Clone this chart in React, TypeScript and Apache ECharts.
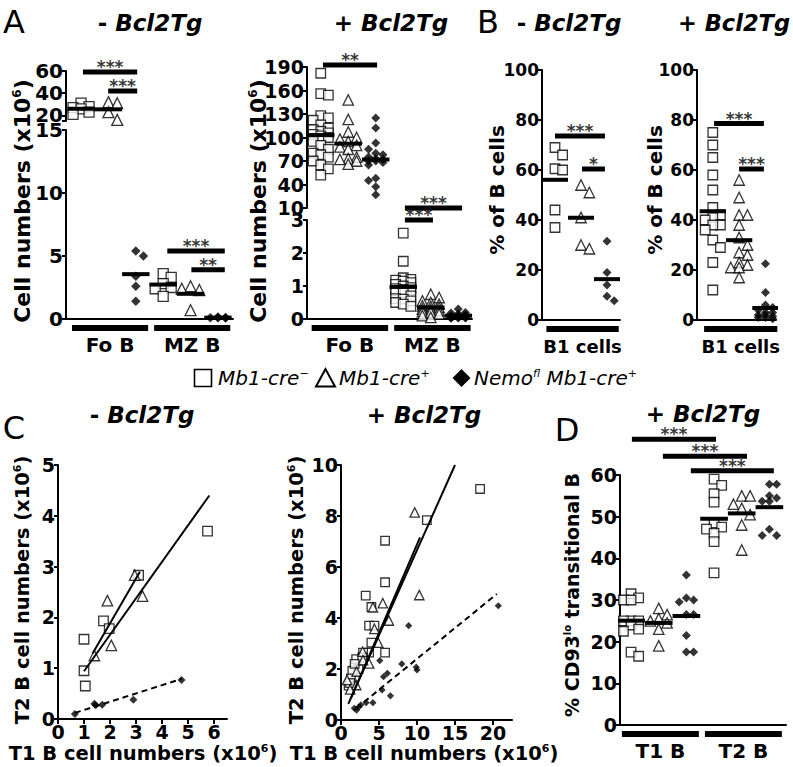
import { useEffect, useRef } from "react";
import * as echarts from "echarts";

const FONT = "DejaVu Sans";
const INK = "#000";

// ================= DATA =================
// Group order inside every category: Mb1-cre−, Mb1-cre+, Nemo fl Mb1-cre+

// Panel A, − Bcl2Tg : cell numbers (x10^6)
const aNegFoCreNeg = [31, 28, 27, 26, 23, 21];
const aNegFoCrePos = [32, 31, 23, 16];
const aNegFoNemo = [5.4, 5.0, 3.4, 2.6, 1.4];
const aNegMzCreNeg = [3.6, 3.3, 2.8, 2.5, 2.4, 1.8];
const aNegMzCrePos = [2.6, 2.4, 2.3, 0.7];
const aNegMzNemo = [0.15, 0.12, 0.1, 0.1, 0.08];

// Panel A, + Bcl2Tg
const aPosFoCreNeg = [182, 156, 154, 128, 125, 122, 116, 112, 110, 108, 106, 104, 102, 100, 95, 90, 85, 80, 78, 75, 70, 65, 60, 52];
const aPosFoCrePos = [148, 123, 107, 100, 98, 95, 90, 88, 85, 75, 73, 72, 70, 66];
const aPosFoNemo = [125, 112, 93, 85, 80, 78, 75, 73, 72, 70, 70, 68, 65, 48, 45, 37, 27];
const aPosMzCreNeg = [2.6, 1.75, 1.25, 1.2, 1.18, 1.15, 1.1, 1.05, 1.0, 0.95, 0.92, 0.9, 0.88, 0.85, 0.8, 0.7, 0.62, 0.6, 0.55, 0.5, 0.45, 0.38];
const aPosMzCrePos = [0.75, 0.65, 0.55, 0.5, 0.45, 0.4, 0.38, 0.35, 0.3, 0.28, 0.25, 0.22, 0.2, 0.15, 0.1, 0.05];
const aPosMzNemo = [0.3, 0.2, 0.18, 0.15, 0.12, 0.1, 0.1, 0.08, 0.06, 0.05, 0.05, 0.04, 0.03, 0.03, 0.02];

const aCategories = ["Fo B", "MZ B"];
const aNegUpperTicks = [20, 40, 60];
const aNegLowerTicks = [0, 5, 10, 15];
const aPosUpperTicks = [10, 40, 70, 100, 130, 160, 190];
const aPosLowerTicks = [0, 1, 2, 3];
// significance bars: [from group, to group, height, label]
const aNegSig: [number, number, number, string][] = [[0.07, 2.05, 59, "***"], [0.99, 2.05, 42, "***"], [3.15, 5.25, 5.4, "***"], [4.03, 5.25, 3.9, "**"]];
const aPosSig: [number, number, number, string][] = [[0.08, 2.05, 192.5, "**"], [3.06, 5.14, 10, "***"], [3.06, 4.08, 3, "***"]];

// Panel B: % of B cells (B1 cells)
const bNegCreNeg = [69, 66, 60.5, 60, 44, 37];
const bNegCrePos = [54, 51, 41, 30, 28.5];
const bNegNemo = [31.5, 19, 14, 9.5, 7.7];
const bPosCreNeg = [75, 70, 65, 58, 52, 45, 42, 41, 40, 38, 38, 36, 32, 29, 23, 12];
const bPosCrePos = [56, 49, 42, 42, 38, 33, 30, 27, 26, 23, 22, 21, 21, 17];
const bPosNemo = [22.5, 11, 6, 5, 4, 3, 3, 2, 2, 1.5, 1, 1, 0.5];
const bCategories = ["B1 cells"];
const bTicks = [0, 20, 40, 60, 80, 100];
const bNegSig: [number, number, number, string][] = [[0, 1.92, 73.6, "***"], [1.04, 1.92, 60.4, "*"]];
const bPosSig: [number, number, number, string][] = [[0.05, 1.94, 78.6, "***"], [1.0, 1.94, 60.4, "***"]];

// Panel C: [T1 B cell numbers, T2 B cell numbers] (x10^6)
const cNegCreNeg = [[1.0, 1.57], [1.0, 0.95], [1.05, 0.65], [1.75, 1.93], [1.97, 1.78], [3.1, 2.83], [5.75, 3.7]];
const cNegCrePos = [[1.4, 1.25], [1.9, 2.33], [2.05, 1.45], [2.95, 2.83], [3.25, 2.42]];
const cNegNemo = [[0.65, 0.1], [1.4, 0.3], [1.45, 0.27], [1.7, 0.28], [2.9, 0.38], [4.75, 0.77]];
const cNegFitCreNeg = [[1.0, 0.94], [5.82, 4.4]];
const cNegFitCrePos = [[1.33, 1.29], [3.15, 2.9]];
const cNegFitNemo = [[0.65, 0.12], [4.76, 0.79]];
const cNegXTicks = [0, 1, 2, 3, 4, 5, 6];
const cNegYTicks = [0, 1, 2, 3, 4, 5];

const cPosCreNeg = [[18.3, 9.06], [11.3, 7.84], [5.8, 7.03], [5.8, 5.4], [3.25, 4.88], [4.0, 4.43], [3.7, 3.7], [4.4, 3.7], [4.0, 3.03], [5.8, 2.64], [3.7, 2.64], [2.9, 2.64], [2.0, 2.39], [2.8, 2.45], [2.3, 2.0], [1.5, 1.93], [1.8, 2.2], [1.3, 1.63], [1.0, 1.35], [1.2, 1.45]];
const cPosCrePos = [[9.7, 8.14], [10.3, 4.9], [5.5, 4.58], [4.2, 4.42], [6.3, 3.9], [4.4, 3.57], [4.9, 3.03], [2.85, 2.68], [3.7, 2.22], [2.9, 2.35], [2.05, 1.9], [0.8, 1.57], [2.0, 1.37], [1.2, 1.2]];
const cPosNemo = [[20.7, 4.48], [8.9, 3.7], [5.1, 2.33], [8.0, 2.2], [9.9, 2.07], [10.0, 1.96], [6.1, 1.83], [5.6, 1.7], [5.4, 1.18], [6.5, 0.95], [3.3, 0.68], [4.2, 0.68], [2.6, 0.59], [2.3, 0.5], [1.75, 0.46], [2.05, 0.39]];
const cPosFitCreNeg = [[0.96, 0.63], [15.0, 10.0]];
const cPosFitCrePos = [[1.3, 0.85], [10.4, 7.16]];
const cPosFitNemo = [[2.0, 0.46], [20.5, 4.94]];
const cPosXTicks = [0, 5, 10, 15, 20];
const cPosYTicks = [0, 2, 4, 6, 8, 10];

// Panel D: % CD93lo transitional B
const dT1CreNeg = [31.5, 30.5, 30, 30, 25, 25, 25, 24, 23, 22.5, 17.5, 16.5];
const dT1CrePos = [28, 26.5, 25.5, 25, 24.5, 23, 19];
const dT1Nemo = [36, 30.5, 30, 29.5, 26.5, 26.5, 21.5, 17.5, 17.5];
const dT2CreNeg = [59, 57.5, 55.5, 53.5, 48.5, 47.5, 47, 46, 44, 36.5];
const dT2CrePos = [55, 55, 53, 52, 50.5, 48, 42];
const dT2Nemo = [57.8, 57.8, 55, 54.5, 53.7, 53.7, 47, 45.5, 45.5];
const dCategories = ["T1 B", "T2 B"];
const dTicks = [0, 10, 20, 30, 40, 50, 60];
const dSig: [number, number, number, string][] = [[0.03, 3.07, 68.6, "***"], [1.15, 4.19, 64.5, "***"], [2.16, 5.16, 61, "***"]];

// ================= LAYOUT =================
type G = { left: number; top: number; width: number; height: number; xMin: number; xMax: number; yMin: number; yMax: number };
const GRIDS: G[] = [
  { left: 66, top: 71, width: 167, height: 50, xMin: -0.55, xMax: 5.55, yMin: 15, yMax: 60 }, // 0 A− upper
  { left: 66, top: 130, width: 167, height: 189, xMin: -0.55, xMax: 5.55, yMin: 0, yMax: 15 }, // 1 A− lower
  { left: 307, top: 67, width: 165, height: 141, xMin: -0.5, xMax: 5.5, yMin: 10, yMax: 190 }, // 2 A+ upper
  { left: 307, top: 220, width: 165, height: 99, xMin: -0.5, xMax: 5.5, yMin: 0, yMax: 3 }, // 3 A+ lower
  { left: 542, top: 70, width: 78, height: 250, xMin: -0.5, xMax: 2.5, yMin: 0, yMax: 100 }, // 4 B−
  { left: 697, top: 70, width: 79, height: 250, xMin: -0.6, xMax: 2.4, yMin: 0, yMax: 100 }, // 5 B+
  { left: 58, top: 465, width: 169, height: 254, xMin: 0, xMax: 6.5, yMin: 0, yMax: 5 }, // 6 C−
  { left: 341, top: 465, width: 171, height: 255, xMin: 0, xMax: 22.5, yMin: 0, yMax: 10 }, // 7 C+
  { left: 620, top: 475, width: 166, height: 250, xMin: -0.4, xMax: 5.6, yMin: 0, yMax: 60 }, // 8 D
];
const AXES: { yTicks: number[]; yLabels: number[]; x: "none" | "line" | "ticks"; xTicks?: number[]; font: number }[] = [
  { yTicks: [15, ...aNegUpperTicks], yLabels: aNegUpperTicks, x: "none", font: 20 },
  { yTicks: aNegLowerTicks, yLabels: aNegLowerTicks, x: "line", font: 20 },
  { yTicks: aPosUpperTicks, yLabels: aPosUpperTicks, x: "none", font: 19 },
  { yTicks: aPosLowerTicks, yLabels: aPosLowerTicks, x: "line", font: 19 },
  { yTicks: bTicks, yLabels: bTicks, x: "line", font: 17 },
  { yTicks: bTicks, yLabels: bTicks, x: "line", font: 17 },
  { yTicks: cNegYTicks, yLabels: cNegYTicks, x: "ticks", xTicks: cNegXTicks, font: 19 },
  { yTicks: cPosYTicks, yLabels: cPosYTicks, x: "ticks", xTicks: cPosXTicks, font: 19 },
  { yTicks: dTicks, yLabels: dTicks, x: "line", font: 19 },
];

type Kind = "sq" | "tri" | "dia";
const KIND_ORDER: Kind[] = ["sq", "tri", "dia"];
const KIND_STYLE: Record<Kind, any> = {
  sq: { symbol: "rect", scale: 1, itemStyle: { color: "#fff", borderColor: INK, borderWidth: 1.3 } },
  tri: { symbol: "triangle", scale: 1.1, itemStyle: { color: "#fff", borderColor: INK, borderWidth: 1.3 } },
  dia: { symbol: "diamond", scale: 0.95, itemStyle: { color: INK, borderWidth: 0 } },
};

const mean = (a: number[]) => a.reduce((s, v) => s + v, 0) / a.length;
const yPx = (g: number, v: number) => {
  const d = GRIDS[g];
  return d.top + (d.height * (d.yMax - v)) / (d.yMax - d.yMin);
};

// beeswarm-like horizontal spreading of overlapping points (layout only)
function swarm(vals: number[], center: number, pxPerX: number, py: (v: number) => number, size: number, half: number) {
  const step = (size * 0.8) / pxPerX;
  const maxK = Math.max(0, Math.floor(half / step));
  const placed: { x: number; y: number }[] = [];
  const out: number[][] = [];
  const order = vals.map((_, i) => i).sort((a, b) => vals[b] - vals[a]);
  for (const idx of order) {
    const v = vals[idx];
    const p = py(v);
    let best = center;
    let bestCost = Infinity;
    for (let i = 0; i <= 2 * maxK; i++) {
      const k = i === 0 ? 0 : i % 2 === 1 ? (i + 1) / 2 : -i / 2;
      const x = center + k * step;
      let cost = Math.abs(k) * 0.01;
      for (const q of placed) {
        const dx = Math.abs(q.x - x) * pxPerX;
        const dy = Math.abs(q.y - p);
        if (dx < size * 0.8 && dy < size * 0.85) cost += (size * 0.8 - dx) * (size * 0.85 - dy);
      }
      if (cost < bestCost) {
        bestCost = cost;
        best = x;
      }
    }
    placed.push({ x: best, y: p });
    out.push([best, v]);
  }
  return out;
}

function hLine(g: number, x0: number, x1: number, y: number, width: number) {
  return {
    type: "line", xAxisIndex: g, yAxisIndex: g, data: [[x0, y], [x1, y]], symbol: "none",
    lineStyle: { color: INK, width, cap: "butt" }, clip: false, silent: true, z: 5,
  };
}

function dotPanel(series: any[], upper: number | null, lower: number, groups: number[][], size: number, sig: [number, number, number, string][]) {
  const gl = GRIDS[lower];
  const pxX = gl.width / (gl.xMax - gl.xMin);
  const route = (v: number) => (upper !== null && v >= GRIDS[upper].yMin ? upper : lower);
  groups.forEach((vals, gi) => {
    const kind = KIND_ORDER[gi % 3];
    const ks = KIND_STYLE[kind];
    const sz = size * ks.scale;
    const pts = swarm(vals, gi, pxX, (v) => yPx(route(v), v), sz, 0.42);
    const byGrid = new Map<number, number[][]>();
    pts.forEach((p) => {
      const g = route(p[1]);
      if (!byGrid.has(g)) byGrid.set(g, []);
      byGrid.get(g)!.push(p);
    });
    byGrid.forEach((data, g) => {
      series.push({
        type: "scatter", xAxisIndex: g, yAxisIndex: g, data, symbol: ks.symbol, symbolSize: sz,
        itemStyle: ks.itemStyle, silent: true, z: 3, clip: false,
      });
    });
    const m = mean(vals);
    series.push(hLine(route(m), gi - 0.5, gi + 0.5, m, 4));
  });
  sig.forEach(([a, b, y, s]) => {
    const g = route(y);
    series.push(hLine(g, a, b, y, 5));
    series.push({
      type: "scatter", xAxisIndex: g, yAxisIndex: g, data: [[(a + b) / 2, y]], symbolSize: 1,
      itemStyle: { color: "rgba(0,0,0,0)" }, clip: false, silent: true, z: 6,
      label: {
        show: true, position: "inside", offset: [0, -5], formatter: s, color: INK,
        fontFamily: FONT, fontWeight: "bold", fontSize: 17, lineHeight: 9,
      },
    });
  });
}

function xyPanel(series: any[], g: number, sets: number[][][], fits: number[][][], size: number) {
  sets.forEach((data, i) => {
    const ks = KIND_STYLE[KIND_ORDER[i]];
    series.push({
      type: "scatter", xAxisIndex: g, yAxisIndex: g, data, symbol: ks.symbol,
      symbolSize: size * (KIND_ORDER[i] === "dia" ? 0.8 : ks.scale * 0.95), itemStyle: ks.itemStyle, silent: true, z: 3,
    });
  });
  fits.forEach((data, i) => {
    series.push({
      type: "line", xAxisIndex: g, yAxisIndex: g, data, symbol: "none", silent: true, z: 4,
      lineStyle: { color: INK, width: 2, type: i === 2 ? [6, 4] : "solid" },
    });
  });
}

const T = (x: number, y: number, text: string, rich: any, extra: any = {}) => ({
  type: "text", x, y, silent: true, ...extra,
  style: { text, rich, align: "center", verticalAlign: "middle", textAlign: "center", textVerticalAlign: "middle", fill: INK },
});

const richBold = (fs: number) => ({
  b: { fontFamily: FONT, fontWeight: "bold", fontSize: fs, fill: INK },
  i: { fontFamily: FONT, fontWeight: "bold", fontStyle: "italic", fontSize: fs, fill: INK },
  s: { fontFamily: FONT, fontWeight: "bold", fontSize: Math.round(fs * 0.55), fill: INK, verticalAlign: "top" },
});
const richLetter = { l: { fontFamily: FONT, fontSize: 32, fill: INK } };
const richLegend = {
  i: { fontFamily: FONT, fontStyle: "italic", fontSize: 20, fill: INK },
  s: { fontFamily: FONT, fontStyle: "italic", fontSize: 11, fill: INK, verticalAlign: "top" },
};

function staticGraphics() {
  const g: any[] = [];
  const rot = { rotation: Math.PI / 2 };
  // panel letters
  g.push(T(14, 22, "{l|A}", richLetter));
  g.push(T(488, 22, "{l|B}", richLetter));
  g.push(T(14, 428, "{l|C}", richLetter));
  g.push(T(567, 430, "{l|D}", richLetter));
  // titles
  const neg = "{b|- }{i|Bcl2Tg}";
  const pos = "{b|+ }{i|Bcl2Tg}";
  g.push(T(150, 23, neg, richBold(23)));
  g.push(T(391, 23, pos, richBold(23)));
  g.push(T(569, 23, neg, richBold(23)));
  g.push(T(734, 23, pos, richBold(22.5)));
  g.push(T(142, 415, neg, richBold(23)));
  g.push(T(424, 415, pos, richBold(23)));
  g.push(T(703, 414, pos, richBold(23)));
  // axis names
  const cellNum = "{b|Cell numbers (x10}{s|6}{b|)}";
  g.push(T(22, 201, cellNum, richBold(22), rot));
  g.push(T(258, 201, cellNum, richBold(22), rot));
  g.push(T(497, 190, "{b|% of B cells}", richBold(20), rot));
  g.push(T(655, 190, "{b|% of B cells}", richBold(20), rot));
  g.push(T(22, 590, "{b|T2 B cell numbers (x10}{s|6}{b|)}", richBold(19.5), rot));
  g.push(T(296, 590, "{b|T2 B cell numbers (x10}{s|6}{b|)}", richBold(19.5), rot));
  g.push(T(143, 753, "{b|T1 B cell numbers (x10}{s|6}{b|)}", richBold(19.5)));
  g.push(T(424, 753, "{b|T1 B cell numbers (x10}{s|6}{b|)}", richBold(19.5)));
  g.push(T(572, 595, "{b|% CD93}{s|lo}{b| transitional B}", richBold(19), rot));
  // legend
  const ly = 378;
  g.push({ type: "rect", silent: true, shape: { x: 194.5, y: ly - 8.5, width: 17, height: 17 }, style: { fill: "none", stroke: INK, lineWidth: 1.6 } });
  g.push({ type: "text", x: 218, y: ly, silent: true, style: { text: "{i|Mb1-cre}{s|−}", rich: richLegend, align: "left", verticalAlign: "middle", textAlign: "left", textVerticalAlign: "middle" } });
  g.push({ type: "polygon", silent: true, shape: { points: [[325.5, ly - 9], [316, ly + 8.5], [335, ly + 8.5]] }, style: { fill: "none", stroke: INK, lineWidth: 2 } });
  g.push({ type: "text", x: 339, y: ly, silent: true, style: { text: "{i|Mb1-cre}{s|+}", rich: richLegend, align: "left", verticalAlign: "middle", textAlign: "left", textVerticalAlign: "middle" } });
  g.push({ type: "polygon", silent: true, shape: { points: [[461.5, ly - 9], [470.5, ly], [461.5, ly + 9], [452.5, ly]] }, style: { fill: INK } });
  g.push({ type: "text", x: 474, y: ly, silent: true, style: { text: "{i|Nemo}{s|fl}{i| Mb1-cre}{s|+}", rich: richLegend, align: "left", verticalAlign: "middle", textAlign: "left", textVerticalAlign: "middle" } });
  return g;
}

// category bars beneath the x axes: [grid, first group, last group, label]
const CATEGORY_BARS: [number, number, number, string][] = [
  [1, 0, 2, aCategories[0]], [1, 3, 5, aCategories[1]],
  [3, 0, 2, aCategories[0]], [3, 3, 5, aCategories[1]],
  [4, 0, 2, bCategories[0]], [5, 0, 2, bCategories[0]],
  [8, 0, 2, dCategories[0]], [8, 3, 5, dCategories[1]],
];

function buildOption() {
  const series: any[] = [];
  dotPanel(series, 0, 1, [aNegFoCreNeg, aNegFoCrePos, aNegFoNemo, aNegMzCreNeg, aNegMzCrePos, aNegMzNemo], 10, aNegSig);
  dotPanel(series, 2, 3, [aPosFoCreNeg, aPosFoCrePos, aPosFoNemo, aPosMzCreNeg, aPosMzCrePos, aPosMzNemo], 9.5, aPosSig);
  dotPanel(series, null, 4, [bNegCreNeg, bNegCrePos, bNegNemo], 9.5, bNegSig);
  dotPanel(series, null, 5, [bPosCreNeg, bPosCrePos, bPosNemo], 9.5, bPosSig);
  xyPanel(series, 6, [cNegCreNeg, cNegCrePos, cNegNemo], [cNegFitCreNeg, cNegFitCrePos, cNegFitNemo], 10);
  xyPanel(series, 7, [cPosCreNeg, cPosCrePos, cPosNemo], [cPosFitCreNeg, cPosFitCrePos, cPosFitNemo], 9);
  dotPanel(series, null, 8, [dT1CreNeg, dT1CrePos, dT1Nemo, dT2CreNeg, dT2CrePos, dT2Nemo], 9.5, dSig);

  const labelFont = (fs: number) => ({ color: INK, fontFamily: FONT, fontWeight: "bold", fontSize: fs, lineHeight: Math.round(fs * 0.72) });
  return {
    animation: false,
    backgroundColor: "#fff",
    grid: GRIDS.map((d) => ({ left: d.left, top: d.top, width: d.width, height: d.height, containLabel: false, outerBoundsMode: "none" })),
    xAxis: GRIDS.map((d, i) => {
      const a = AXES[i];
      return {
        gridIndex: i, type: "value", min: d.xMin, max: d.xMax, show: a.x !== "none",
        axisLine: { show: a.x !== "none", onZero: false, lineStyle: { color: INK, width: 2 } },
        axisTick: a.x === "ticks" ? { show: true, customValues: a.xTicks, length: 5, lineStyle: { color: INK, width: 2 } } : { show: false },
        axisLabel: a.x === "ticks" ? { show: true, customValues: a.xTicks, margin: 6, ...labelFont(a.font) } : { show: false },
        splitLine: { show: false },
      };
    }),
    yAxis: GRIDS.map((d, i) => {
      const a = AXES[i];
      return {
        gridIndex: i, type: "value", min: d.yMin, max: d.yMax,
        axisLine: { show: true, onZero: false, lineStyle: { color: INK, width: 2 } },
        axisTick: { show: true, customValues: a.yTicks, length: 4, lineStyle: { color: INK, width: 2 } },
        axisLabel: { show: true, customValues: a.yLabels, margin: 3, ...labelFont(a.font) },
        splitLine: { show: false },
      };
    }),
    series,
  };
}

export default function App() {
  const ref = useRef<HTMLDivElement>(null);
  useEffect(() => {
    if (!ref.current) return;
    const chart = echarts.init(ref.current, null, { renderer: "svg" });
    chart.setOption(buildOption() as any);
    const g = staticGraphics();
    CATEGORY_BARS.forEach(([grid, a, b, label]) => {
      const x0 = chart.convertToPixel({ xAxisIndex: grid } as any, a - 0.33) as unknown as number;
      const x1 = chart.convertToPixel({ xAxisIndex: grid } as any, b + 0.45) as unknown as number;
      const y0 = chart.convertToPixel({ yAxisIndex: grid } as any, GRIDS[grid].yMin) as unknown as number;
      g.push({ type: "rect", silent: true, shape: { x: x0, y: y0 + 6, width: x1 - x0, height: 6 }, style: { fill: INK } });
      g.push(T((x0 + x1) / 2, y0 + 26, `{b|${label}}`, richBold(grid === 4 || grid === 5 ? 18 : 20)));
    });
    chart.setOption({ graphic: g } as any);
    return () => chart.dispose();
  }, []);
  return <div ref={ref} style={{ position: "absolute", left: 0, top: 0, width: 793, height: 767 }} />;
}
